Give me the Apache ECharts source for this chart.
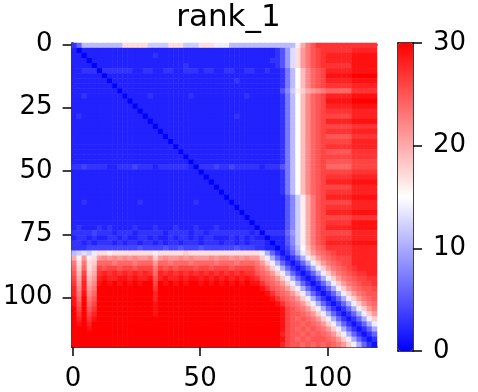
<!DOCTYPE html>
<html><head><meta charset="utf-8">
<script src="https://cdn.jsdelivr.net/npm/echarts@6/dist/echarts.min.js"></script>
<style>html,body{margin:0;padding:0;background:#fff}#c{width:478px;height:392px}</style>
</head><body><div id="c"></div>
<script>
// ---- data ----
const chartTitle = 'rank_1';
const xTickValues = [0, 50, 100];
const yTickValues = [0, 25, 50, 75, 100];
const colorbarTicks = [0, 10, 20, 30];
const valueMin = 0;
const valueMax = 30;
const residueCount = 120;          // matrix is 120 x 120 residues
const cellsPerSide = 60;           // each stored cell covers 2 x 2 residues
// one character per cell: '0'..'9' = 0..9, 'a'..'u' = 10..30
const levelChars = '0123456789abcdefghijklmnopqrstu';
const matrixRows = [
  "36bbbbbbbb hhhhhcccch hhccchhhee ebbbbbbbbb bbbbgknprr rrrrr rrrrr",
  "2022222222 2222222222 2222222222 2222222222 359dhlnpqr rrrrr sssss",
  "2202222222 2222223222 2222222222 2222222222 359dhlnpqr sssss ttttt",
  "2220222222 2222222222 2222222222 2222222223 359dhlnpqr sssss ttttt",
  "2222022222 2222222222 2232222222 2222222222 359dhlnpqr rrrrr ttttt",
  "2233303333 3322332233 2233323322 3322332232 237bfjmopq sssss ttttt",
  "2222220222 2222222222 2222222222 2222222222 237bfjmopq ttttt uuuuu",
  "2222222022 2222222222 2222222222 2232222222 237bfjmopq sssss ttttt",
  "2222222202 2222222222 2222222222 2222222222 237bfjmopq rrrrr sssss",
  "2222222220 2222222222 2222222222 2222222222 258cgiklmn ooooo rrrrr",
  "2232222222 0222232222 2223222222 2222322222 237bfjmopq sssss ttttt",
  "2222222222 2022222222 2222222222 2222222222 237bfjmopq ttttt uuuuu",
  "2222222222 2202222222 2222222222 2222222222 237bfjmopq sssss ttttt",
  "2222222222 2220222222 2222222222 2222222222 237bfjmopq rrrrr sssss",
  "2322222222 2222022222 2222222222 2232222222 237bfjmopq qqqqq sssss",
  "2222222222 2222202222 2222222222 2222222222 237bfjmopq sssss ttttt",
  "2222222222 2222220222 2222222222 2222222222 237bfjmopq qqqqq rrrrr",
  "2222222222 2222222022 2222222222 2222222222 237bfjmopq rrrrr sssss",
  "2222222222 2222222202 2222222222 2222222222 237bfjmopq ppppp rrrrr",
  "2222222222 2222222220 2222222222 2222222222 237bfjmopq qqqqq sssss",
  "2222222222 2222222222 0222222222 2222222222 237bfjmopq rrrrr sssss",
  "2222222222 2222222222 2022222222 2222222222 237bfjmopq ppppp rrrrr",
  "2222222222 2222222222 2202222222 2222222222 237bfjmopq qqqqq rrrrr",
  "2222222222 2222222222 2220222222 2222222222 237bfjmopq ppppp qqqqq",
  "3343333223 3343332333 3332033343 3433333233 357bfjmopq ooooo qqqqq",
  "2222222222 2222222222 2222202222 2222222222 237bfjmopq qqqqq rrrrr",
  "2222222222 2222222222 2222220222 2222222222 237bfjmopq rrrrr sssss",
  "2222222222 2222222222 2222222022 2222222222 237bfjmopq sssss ttttt",
  "2222222222 2222222222 2222222202 2222222222 237bfjmopq qqqqq sssss",
  "2222222222 2222222222 2222222220 2222222222 237bfjmopq rrrrr sssss",
  "2222222222 2222222222 2222222222 0222222222 2258cgknpq sssss ttttt",
  "2232222222 2223222222 2222322222 2022222222 2258cgknpq qqqqq sssss",
  "2222222222 2222222222 2222222222 2202222222 2258cgknpq rrrrr sssss",
  "2222222222 2222222222 2222222222 2220222222 2258cgknpq sssss ttttt",
  "2222222222 2222222222 2222222222 2222022222 2258cgknpq qqqqq rrrrr",
  "2222222222 2222222222 2222222222 2222202222 2258cgknpq rrrrr ttttt",
  "2322232322 2232223222 3222322232 2222220222 2258cgknpq sssss ttttt",
  "3333433323 3323333323 3332332333 3333323033 3369cgknpq qqqqq sssss",
  "2332322332 3223323223 2332323322 2323232202 2258cgknpq rrrrr sssss",
  "3323233323 2332332323 3233323332 3323233320 2258cgknpq sssss ttttt",
  "3334444444 4445444454 4544454444 4454443322 0247bfjmop rrrrr sssss",
  "bcdcehhghh hhhhhhghhh hhihhhhhhh hhhhhhhea6 3136aeilno pqrrr sssss",
  "kglghlmlml mlmllmilml lmlmlllmlm mlmlmlliea 63136aeiln opqqq sssss",
  "nhnhiooono oonoooloon ooonoooono oonooonlie a63136aeil nopqq sssss",
  "oiohjqpqqp qqpqqqnqpq pqqqpqqpqq qpqqqqonli ea63136aei lnopq rssss",
  "pjqikrsrsr srsrsrosrs rsrsrsrsrs rsrsrrponl iea63136ae ilnop qrrss",
  "qkrjlstsst tstsstpsts ststtststs tststsrpon liea63136a eilno pqqrr",
  "rlskmtutut ututuuqutu tutuututut utututtrpo nliea63136 aeiln opqqr",
  "smslnuuuuu uuuuuuruuu uuuuuuuuuu uuuuuuutrp onliea6313 6aeil noppq",
  "sntmouuuuu uuuuuusuuu uuuuuuuuuu uuuuuuuutr ponliea631 36aei lnopp",
  "tounpuuuuu uuuuuusuuu uuuuuuuuuu uuuuuuuuut rponliea63 136ae ilnop",
  "tpuoquuuuu uuuuuutuuu uuuuuuuuuu uuuuuuuuuu trponliea6 3136a eilno",
  "uqupruuuuu uuuuuutuuu uuuuuuuuuu uuuuuuuuuu utqponliea 63136aeiln",
  "uruqsuuuuu uuuuuutuuu uuuuuuuuuu uuuuuuuuuu utqpponlie a63136aeil",
  "usurtuuuuu uuuuuuuuuu uuuuuuuuuu uuuuuuuuuu utqpoponli ea63136aei",
  "utusuuuuuu uuuuuuuuuu uuuuuuuuuu uuuuuuuuuu utqppoponl iea63136ae",
  "uuutuuuuuu uuuuuuuuuu uuuuuuuuuu uuuuuuuuuu utqpopopon liea63136a",
  "uuuuuuuuuu uuuuuuuuuu uuuuuuuuuu uuuuuuuuuu usqppopopo nliea63136",
  "uuuuuuuuuu uuuuuuuuuu uuuuuuuuuu uuuuuuuuuu utqpopoppp onliea6313",
  "uuuuuuuuuu uuuuuuuuuu uuuuuuuuuu uuuuuuuuuu usqppopopo ponliea631"
];

// ---- build the heatmap data from the rows ----
const cellIndex = Array.from({length: cellsPerSide}, (_, i) => i);
const heatData = [];
matrixRows.forEach((row, r) => {
  const s = row.replace(/\s+/g, '');
  if (s.length !== cellsPerSide) console.warn('row', r, 'len', s.length);
  for (let c = 0; c < cellsPerSide; c++) {
    const ch = s[Math.min(c, s.length - 1)];
    heatData.push([c, r, levelChars.indexOf(ch)]);
  }
});

const FONT = 'DejaVu Sans';
const plot = {left: 70, top: 43, width: 307, height: 308};
const cbar = {left: 398, top: 43, width: 15, height: 308};
const lineStyle = {color: '#000', width: 1.5};
const lo = -0.5, hi = residueCount - 0.5;

const chart = echarts.init(document.getElementById('c'), null, {renderer: 'canvas'});
chart.setOption({
  animation: false,
  backgroundColor: '#fff',
  title: {
    text: chartTitle, left: plot.left + plot.width / 2, top: -3, textAlign: 'center',
    textStyle: {fontFamily: FONT, fontSize: 31, fontWeight: 'normal', color: '#000'}
  },
  grid: [
    Object.assign({containLabel: false}, plot),
    Object.assign({containLabel: false}, cbar)
  ],
  xAxis: [
    {type: 'category', gridIndex: 0, data: cellIndex, position: 'top',
     axisLine: {show: true, lineStyle}, axisTick: {show: false}, axisLabel: {show: false}, splitLine: {show: false}},
    {type: 'value', gridIndex: 0, min: lo, max: hi, position: 'bottom',
     axisLine: {show: true, onZero: false, lineStyle},
     axisTick: {show: true, length: 9, lineStyle, customValues: xTickValues},
     axisLabel: {show: true, customValues: xTickValues, fontFamily: FONT, fontSize: 26, color: '#000', margin: 19},
     splitLine: {show: false}},
    {type: 'value', gridIndex: 1, min: 0, max: 1, position: 'bottom',
     axisLine: {show: true, onZero: false, lineStyle}, axisTick: {show: false}, axisLabel: {show: false}, splitLine: {show: false}},
    {type: 'value', gridIndex: 1, min: 0, max: 1, position: 'top',
     axisLine: {show: true, onZero: false, lineStyle}, axisTick: {show: false}, axisLabel: {show: false}, splitLine: {show: false}}
  ],
  yAxis: [
    {type: 'category', gridIndex: 0, data: cellIndex, inverse: true, position: 'right',
     axisLine: {show: true, lineStyle}, axisTick: {show: false}, axisLabel: {show: false}, splitLine: {show: false}},
    {type: 'value', gridIndex: 0, min: lo, max: hi, inverse: true, position: 'left',
     axisLine: {show: true, onZero: false, lineStyle},
     axisTick: {show: true, length: 9, lineStyle, customValues: yTickValues},
     axisLabel: {show: true, customValues: yTickValues, fontFamily: FONT, fontSize: 26, color: '#000', margin: 19},
     splitLine: {show: false}},
    {type: 'value', gridIndex: 1, min: valueMin, max: valueMax, interval: 10, position: 'right',
     axisLine: {show: true, onZero: false, lineStyle},
     axisTick: {show: true, length: 9, lineStyle, customValues: colorbarTicks},
     axisLabel: {show: true, customValues: colorbarTicks, fontFamily: FONT, fontSize: 26, color: '#000', margin: 20},
     splitLine: {show: false}},
    {type: 'value', gridIndex: 1, min: valueMin, max: valueMax, position: 'left',
     axisLine: {show: true, onZero: false, lineStyle}, axisTick: {show: false}, axisLabel: {show: false}, splitLine: {show: false}}
  ],
  visualMap: {
    type: 'continuous', min: valueMin, max: valueMax, seriesIndex: 0,
    calculable: false, realtime: false, orient: 'vertical',
    left: cbar.left, top: cbar.top, itemWidth: cbar.width, itemHeight: cbar.height,
    padding: 0, text: null, showLabel: false, hoverLink: false,
    inRange: {color: ['#0000ff', '#ffffff', '#ff0000']}
  },
  series: [{
    type: 'heatmap', xAxisIndex: 0, yAxisIndex: 0, data: heatData,
    progressive: 0, itemStyle: {borderWidth: 0},
    emphasis: {disabled: true}, z: 1
  }]
});
</script></body></html>
